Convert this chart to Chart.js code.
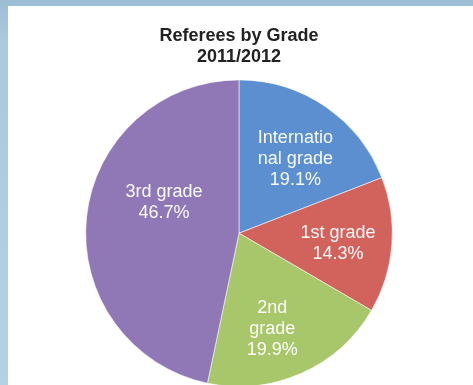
<!DOCTYPE html>
<html>
<head>
<meta charset="utf-8">
<script src="https://cdn.jsdelivr.net/npm/chart.js@4"></script>
<style>
  html, body { margin: 0; padding: 0; }
  body {
    width: 473px; height: 385px; overflow: hidden; position: relative;
    background: linear-gradient(180deg, #9dbdd5 0px, #a9c9de 40px, #b3d2e4 385px);
  }
  #panel { position: absolute; left: 8px; top: 6px; width: 465px; height: 379px; background: #fff; }
  #wrap { position: absolute; left: 0; top: 0; width: 473px; height: 390px; }
</style>
</head>
<body>
<div id="panel"></div>
<div id="wrap"><canvas id="pie"></canvas></div>
<script>
// referees per grade, season 2011/2012 (percent of total)
var grades = [['Internatio', 'nal grade'], ['1st grade'], ['2nd', 'grade'], ['3rd grade']];
var shares = [19.1, 14.3, 19.9, 46.7];
var sliceColors = ['#5b8fcf', '#d1635c', '#a8c66a', '#8f78b5'];
var titleLines = ['Referees by Grade', '2011/2012'];

// where each label sits inside its slice: fraction of radius and turn (deg) from mid-angle
var labelSpots = [
  { r: 0.61, turn: 2.7 },
  { r: 0.65, turn: 1.5 },
  { r: 0.66, turn: 4.7 },
  { r: 0.53, turn: 16.5 }
];

var sliceLabels = {
  id: 'sliceLabels',
  afterDatasetsDraw: function (chart) {
    var ctx = chart.ctx;
    var meta = chart.getDatasetMeta(0);
    ctx.save();
    ctx.fillStyle = 'rgba(255,255,255,0.96)';
    ctx.font = '18px "Liberation Sans", Arial, sans-serif';
    ctx.textAlign = 'center';
    ctx.textBaseline = 'middle';
    meta.data.forEach(function (arc, i) {
      var p = arc.getProps(['x', 'y', 'startAngle', 'endAngle', 'outerRadius'], true);
      var spot = labelSpots[i];
      var mid = (p.startAngle + p.endAngle) / 2 + spot.turn * Math.PI / 180;
      var cx = p.x + Math.cos(mid) * p.outerRadius * spot.r;
      var cy = p.y + Math.sin(mid) * p.outerRadius * spot.r;
      var lines = grades[i].concat([shares[i].toFixed(1) + '%']);
      var lh = 21;
      var y0 = cy - (lines.length - 1) * lh / 2;
      lines.forEach(function (t, k) {
        ctx.fillText(t, cx, y0 + k * lh);
      });
    });
    ctx.restore();
  }
};

new Chart(document.getElementById('pie'), {
  type: 'pie',
  data: {
    labels: grades.map(function (g) { return g.join(''); }),
    datasets: [{
      data: shares,
      backgroundColor: sliceColors,
      borderColor: 'rgba(255,255,255,0.55)',
      borderWidth: 1
    }]
  },
  options: {
    responsive: true,
    maintainAspectRatio: false,
    animation: false,
    layout: { padding: { left: 5, right: 0, top: 0, bottom: 3 } },
    plugins: {
      legend: { display: false },
      tooltip: { enabled: false },
      title: {
        display: true,
        text: titleLines,
        color: '#222222',
        font: { family: '"Liberation Sans", Arial, sans-serif', size: 18, weight: 'bold', lineHeight: 1.15 },
        padding: { top: 26, bottom: 12 }
      }
    }
  },
  plugins: [sliceLabels]
});
</script>
</body>
</html>
